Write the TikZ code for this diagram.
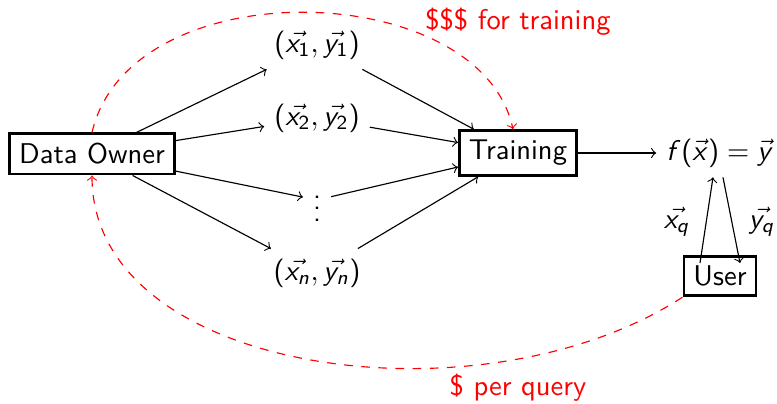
\documentclass[tikz,border=0pt]{standalone}
\usetikzlibrary{calc}
% sans-serif math: slanted Computer Modern Sans letters, upright sans digits
\DeclareSymbolFont{sfletters}{OT1}{cmss}{m}{sl}
\DeclareSymbolFont{sfupright}{OT1}{cmss}{m}{n}
\DeclareMathSymbol{f}{\mathalpha}{sfletters}{`f}
\DeclareMathSymbol{n}{\mathalpha}{sfletters}{`n}
\DeclareMathSymbol{q}{\mathalpha}{sfletters}{`q}
\DeclareMathSymbol{x}{\mathalpha}{sfletters}{`x}
\DeclareMathSymbol{y}{\mathalpha}{sfletters}{`y}
\DeclareMathSymbol{1}{\mathalpha}{sfupright}{`1}
\DeclareMathSymbol{2}{\mathalpha}{sfupright}{`2}
\DeclareMathSymbol{=}{\mathrel}{sfupright}{`=}
\DeclareMathSymbol{(}{\mathopen}{sfupright}{`(}
\DeclareMathSymbol{)}{\mathclose}{sfupright}{`)}
\tikzset{
  stagebox/.style={draw, line width=1pt, inner sep=0.3333em},
  flow/.style={->, line width=0.4pt},
  costflow/.style={->, red, dashed, line width=0.4pt},
  costlabel/.style={red, inner sep=0pt},
}
\begin{document}
\begin{tikzpicture}[x=0.35pt, y=-0.35pt, font=\sffamily]
  \useasboundingbox (0,0) rectangle (777,404);

  % parties and stages
  \node[stagebox] (owner) at (92,154) {Data Owner};
  \node[stagebox] (train) at (518,153) {Training};
  \node[stagebox] (user)  at (720,276) {User};
  \node (model) at (720,153) {$f(\vec{x})=\vec{y}$};

  % training samples
  \node (p1) at (317,45)  {$(\vec{x_1},\vec{y_1})$};
  \node (p2) at (317,118) {$(\vec{x_2},\vec{y_2})$};
  \node (pd) at (317,200) {$\vdots$};
  \node (pn) at (317,273) {$(\vec{x_n},\vec{y_n})$};

  % data flow
  \foreach \p in {p1,p2,pd,pn} {
    \draw[flow] (owner) -- (\p);
    \draw[flow] (\p) -- (train);
  }
  \draw[flow] (train) -- (model);

  % query and answer
  \coordinate (qout) at ($(user.center)+(-20,-13)$);
  \coordinate (qin)  at ($(model.south)+(-7,0)$);
  \coordinate (aout) at ($(model.south)+(3,0)$);
  \coordinate (ain)  at ($(user.center)+(20,-13)$);
  \draw[flow] (qout) -- (qin);
  \draw[flow] (aout) -- (ain);
  \node (xq) at (677,222) {$\vec{x_q}$};
  \node (yq) at (762,222) {$\vec{y_q}$};

  % payments
  \coordinate (trainpay) at ($(train.north)+(-5,0)$);
  \draw[costflow] (owner.north) .. controls +(38,-164) and +(-33,-152) .. (trainpay);
  \draw[costflow] (user.south west) .. controls +(-200,130) and +(0,200) .. (owner.south);
  \node[costlabel] (paytrain) at (518,22)  {\$\$\$ for training};
  \node[costlabel] (payquery) at (518,388) {\$ per query};
\end{tikzpicture}
\end{document}
